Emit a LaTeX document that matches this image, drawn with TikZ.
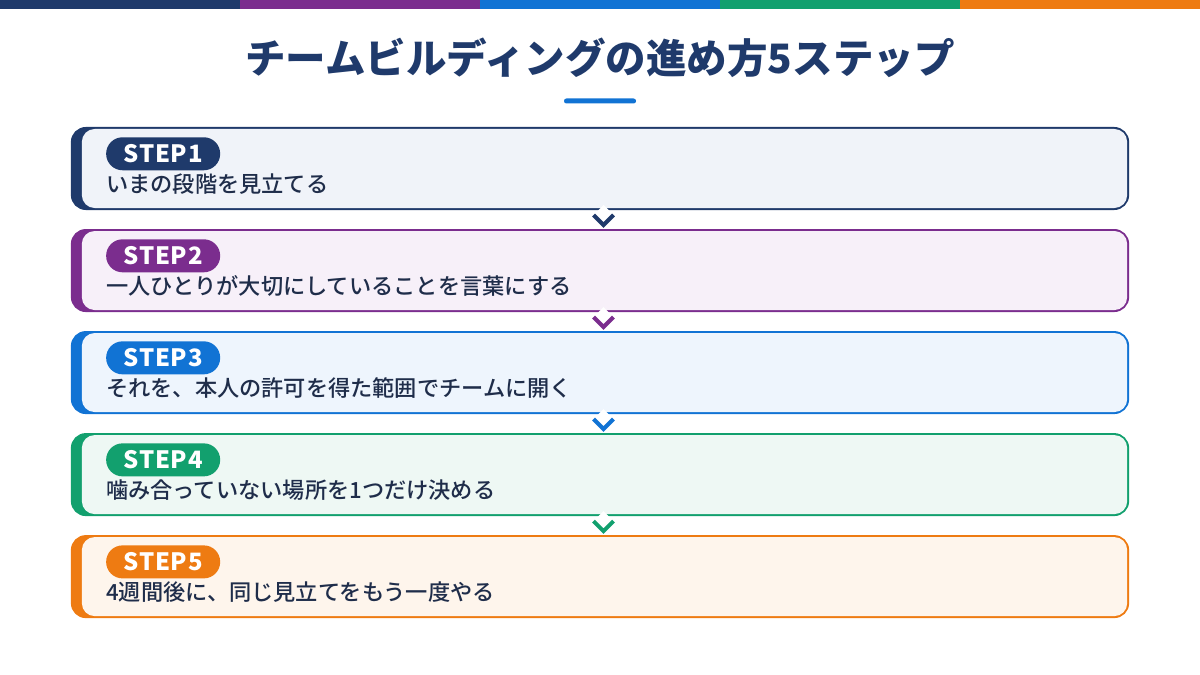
\documentclass[tikz,border=0pt]{standalone}
\usepackage{fontspec}
\setmainfont{Noto Sans CJK JP}
\newfontfamily\midfont{Noto Sans CJK JP Medium}
\usepackage{tikz}
\usetikzlibrary{positioning, calc}
\definecolor{navy}{HTML}{1F3A6B}
\definecolor{purple}{HTML}{7B2D8E}
\definecolor{blue}{HTML}{1173D4}
\definecolor{green}{HTML}{12A06E}
\definecolor{orange}{HTML}{EE7B12}
\definecolor{navytint}{HTML}{F0F3F9}
\definecolor{purpletint}{HTML}{F7F0F9}
\definecolor{bluetint}{HTML}{EEF5FD}
\definecolor{greentint}{HTML}{EEF8F4}
\definecolor{orangetint}{HTML}{FEF5EC}
\definecolor{ink}{HTML}{1F2D4A}
\tikzset{x=0.025cm, y=-0.025cm, node distance = 0.525cm,
  card/.style={rectangle, outer sep=0pt, rounded corners=0.35cm, minimum width=26.4cm,
    minimum height=2.025cm, fill=#1, draw=#1, line width=1.42pt},
  cardtint/.style={rectangle, outer sep=0pt, inner sep=0pt, rounded corners=0.32cm,
    minimum width=26.125cm, minimum height=1.975cm, fill=#1, anchor=east},
  badge/.style={rectangle, rounded corners=0.41cm, fill=#1, text=white, minimum width=2.85cm,
    minimum height=0.825cm, inner sep=0pt, anchor=north west,
    font=\fontsize{17}{20}\selectfont\bfseries\addfontfeature{LetterSpace=3}},
  steptext/.style={anchor=west, inner sep=0pt, text=ink, font=\fontsize{15.8}{19}\midfont},
  chev/.style={draw=#1, line width=0.1cm, line join=miter},
  notch/.style={fill=white}}

\begin{document}
\begin{tikzpicture}
    \useasboundingbox (0,0) rectangle (1200,675);
    % top colour strip
    \fill[navy] (0,0) rectangle (240,9);
    \fill[purple] (240,0) rectangle (480,9);
    \fill[blue] (480,0) rectangle (720,9);
    \fill[green] (720,0) rectangle (960,9);
    \fill[orange] (960,0) rectangle (1200,9);

    \node[text=navy, font=\fontsize{28.8}{34}\selectfont\bfseries] (title) at (600,58)
        {チームビルディングの進め方5ステップ};
    \node[rectangle, fill=blue, rounded corners=0.06cm, minimum width=1.8cm,
        minimum height=0.125cm, inner sep=0pt] (rule) at (600,101) {};

    % cards
    \node[card=navy] (s1) at (600,168.5) {};
    \node[card=purple, below=of s1] (s2) {};
    \node[card=blue, below=of s2] (s3) {};
    \node[card=green, below=of s3] (s4) {};
    \node[card=orange, below=of s4] (s5) {};

    \node[cardtint=navytint] (t1) at ($(s1.east)+(-1,0)$) {};
    \node[cardtint=purpletint] (t2) at ($(s2.east)+(-1,0)$) {};
    \node[cardtint=bluetint] (t3) at ($(s3.east)+(-1,0)$) {};
    \node[cardtint=greentint] (t4) at ($(s4.east)+(-1,0)$) {};
    \node[cardtint=orangetint] (t5) at ($(s5.east)+(-1,0)$) {};

    \node[badge=navy] (b1) at ($(s1.north west)+(34,9)$) {STEP1};
    \node[badge=purple] (b2) at ($(s2.north west)+(34,9)$) {STEP2};
    \node[badge=blue] (b3) at ($(s3.north west)+(34,9)$) {STEP3};
    \node[badge=green] (b4) at ($(s4.north west)+(34,9)$) {STEP4};
    \node[badge=orange] (b5) at ($(s5.north west)+(34,9)$) {STEP5};

    \node[steptext] (l1) at ($(s1.west)+(34,15.5)$) {いまの段階を見立てる};
    \node[steptext] (l2) at ($(s2.west)+(34,15.5)$) {一人ひとりが大切にしていることを言葉にする};
    \node[steptext] (l3) at ($(s3.west)+(34,15.5)$) {それを、本人の許可を得た範囲でチームに開く};
    \node[steptext] (l4) at ($(s4.west)+(34,15.5)$) {噛み合っていない場所を1つだけ決める};
    \node[steptext] (l5) at ($(s5.west)+(34,15.5)$) {4週間後に、同じ見立てをもう一度やる};

    % chevrons between the cards
    \fill[notch] ($(s1.south)+(3.5,-4)$) -- ++(10,10) -- ++(-10,10) -- ++(-10,-10) -- cycle;
    \draw[chev=navy] ($(s1.south)+(-6.5,6)$) -- ++(10,10) -- ++(10,-10);
    \fill[notch] ($(s2.south)+(3.5,-4)$) -- ++(10,10) -- ++(-10,10) -- ++(-10,-10) -- cycle;
    \draw[chev=purple] ($(s2.south)+(-6.5,6)$) -- ++(10,10) -- ++(10,-10);
    \fill[notch] ($(s3.south)+(3.5,-4)$) -- ++(10,10) -- ++(-10,10) -- ++(-10,-10) -- cycle;
    \draw[chev=blue] ($(s3.south)+(-6.5,6)$) -- ++(10,10) -- ++(10,-10);
    \fill[notch] ($(s4.south)+(3.5,-4)$) -- ++(10,10) -- ++(-10,10) -- ++(-10,-10) -- cycle;
    \draw[chev=green] ($(s4.south)+(-6.5,6)$) -- ++(10,10) -- ++(10,-10);
\end{tikzpicture}
\end{document}
